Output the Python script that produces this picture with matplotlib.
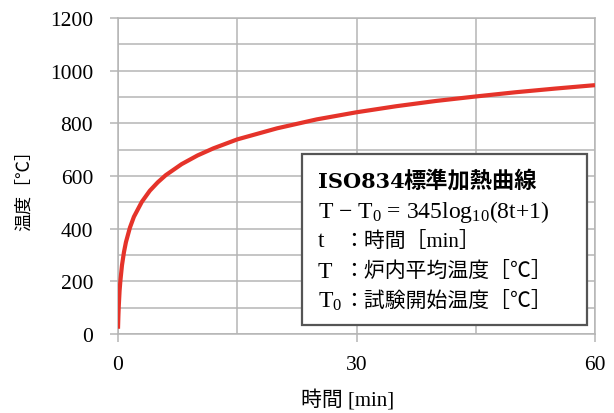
import matplotlib.pyplot as plt
from matplotlib.patches import Rectangle

# ISO834 標準加熱曲線 (読み取り値)
t_min = [0, 0.05, 0.1, 0.2, 0.3, 0.5, 0.75, 1, 1.5, 2, 3, 4, 5, 6, 8, 10, 12,
         15, 20, 25, 30, 35, 40, 45, 50, 55, 60]
temp = [20, 70, 108, 165, 202, 261, 311, 349, 404, 445, 502, 544, 576, 603,
        645, 678, 705, 739, 781, 815, 842, 865, 885, 902, 918, 932, 945]

x_ticks = [0, 30, 60]
y_ticks = [0, 200, 400, 600, 800, 1000, 1200]

legend_title = ['ISO834', '標準加熱曲線']
legend_sym = [r'T $-$ T$_\mathrm{0}$ = 345log$_\mathrm{10}$(8t+1)', 't', 'T', r'T$_\mathrm{0}$']
legend_desc = ['', '：時間［min］', '：炉内平均温度［℃］', '：試験開始温度［℃］']

plt.rcParams['font.family'] = ['Liberation Serif', 'Noto Sans CJK JP']
plt.rcParams['mathtext.fontset'] = 'custom'
plt.rcParams['mathtext.rm'] = 'Liberation Serif'
plt.rcParams['mathtext.it'] = 'Liberation Serif'

W, H = 614, 414
fig = plt.figure(figsize=(W / 100, H / 100), dpi=100)
ax = fig.add_axes([118 / W, (H - 335) / H, 477 / W, 316 / H])

grid_c = '#b5b5b5'
ax.plot(t_min, temp, color='#e5332a', lw=3.0, solid_capstyle='butt', zorder=3)

ax.set_xlim(0, 60)
ax.set_ylim(0, 1200)
ax.set_xticks(x_ticks)
ax.set_yticks(y_ticks)
ax.set_xticks(range(0, 61, 15), minor=True)
ax.set_yticks(range(0, 1201, 100), minor=True)
ax.grid(which='both', color=grid_c, lw=1.1)
ax.set_axisbelow(True)
for s in ax.spines.values():
    s.set_color(grid_c)
    s.set_linewidth(1.1)
ax.tick_params(which='major', length=6, width=1.1, color=grid_c, labelsize=15.5)
ax.tick_params(axis='x', which='major', pad=9)
ax.tick_params(axis='y', which='major', pad=12)
ax.tick_params(which='minor', length=0)

fig.text(348 / W, 1 - 401 / H, '時間 [min]', ha='center', va='center', fontsize=15)
fig.text(24 / W, 1 - 186 / H, '温度［℃］', ha='center', va='center',
         rotation=90, fontsize=13)

# 凡例ボックス
box = Rectangle((302 / W, 1 - 326 / H), 285 / W, 171 / H, transform=fig.transFigure,
                facecolor='white', edgecolor='#555555', lw=1.6, zorder=5)
fig.add_artist(box)
fig.text(318 / W, 1 - 182 / H, legend_title[0], ha='left', va='center',
         fontsize=15, fontweight='bold', family='DejaVu Serif', zorder=6)
fig.text(404 / W, 1 - 181 / H, legend_title[1], ha='left', va='center',
         fontsize=16, fontweight='bold', family='Noto Sans CJK JP', zorder=6)
ys = [212, 242, 272, 302]
for sym, desc, y in zip(legend_sym, legend_desc, ys):
    fig.text(318 / W, 1 - y / H, sym, ha='left', va='center', fontsize=17, zorder=6)
    if desc:
        fig.text(343 / W, 1 - y / H, desc, ha='left', va='center', fontsize=15, zorder=6)

fig.savefig('out.png', dpi=100)
